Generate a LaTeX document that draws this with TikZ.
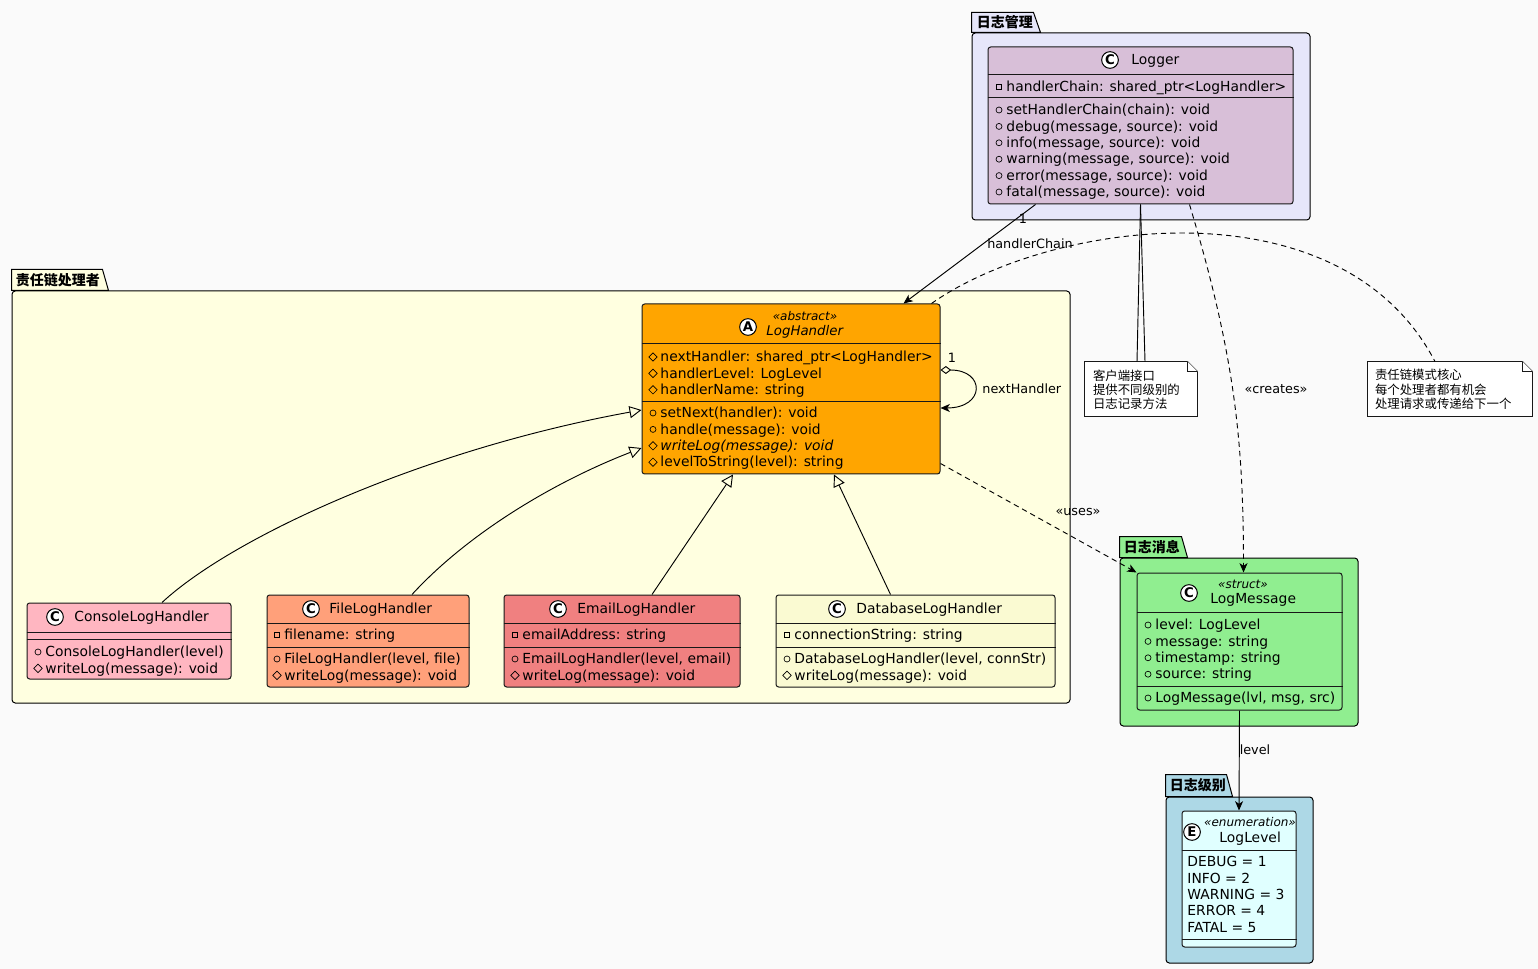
\documentclass[tikz,border=0pt]{standalone}
\usepackage{fontspec}
\setmainfont{DejaVu Sans}
\newfontfamily\cjk{Noto Sans CJK SC}
\usetikzlibrary{arrows.meta, fit, shapes.geometric}

\definecolor{bgc}{HTML}{FAFAFA}
\definecolor{lavender}{HTML}{E6E6FA}
\definecolor{thistle}{HTML}{D8BFD8}
\definecolor{lightyellow}{HTML}{FFFFE0}
\definecolor{orangec}{HTML}{FFA500}
\definecolor{lightpink}{HTML}{FFB6C1}
\definecolor{lightsalmon}{HTML}{FFA07A}
\definecolor{lightcoral}{HTML}{F08080}
\definecolor{goldenyellow}{HTML}{FAFAD2}
\definecolor{lightgreen}{HTML}{90EE90}
\definecolor{lightblue}{HTML}{ADD8E6}
\definecolor{lightcyan}{HTML}{E0FFFF}
\definecolor{border}{HTML}{181818}

% one member line: marker and text
\newcommand{\members}[4]{%
  \foreach \vis/\txt [count = \i] in {#4} {
    \node[\vis] (#1-v\i) at ({#2 + 11}, {#3 + 16.4*(\i - 1)}) {};
    \node[member] (#1-t\i) at ({#2 + 18}, {#3 + 16.4*(\i - 1)}) {\txt};
  }}

\begin{document}
\begin{tikzpicture}[x = 0.75pt, y = -0.75pt, line width = 0.7pt, font = \fontsize{10.4}{12}\selectfont,
	cls/.style = {draw = border, rounded corners = 2pt, inner sep = 0, line width = 0.75pt},
	pkg/.style = {draw = black, rounded corners = 2.5pt, inner sep = 0, line width = 0.75pt},
	pkgtitle/.style = {anchor = west, inner sep = 0, font = \cjk\bfseries\fontsize{10.5}{12}\selectfont},
	spot/.style = {circle, draw = black, fill = white, inner sep = 0, minimum size = 12.5pt, line width = 0.75pt, font = \bfseries\fontsize{10}{10}\selectfont},
	member/.style = {anchor = west, inner sep = 0, text height = 8pt, text depth = 1pt},
	stereo/.style = {inner sep = 0, font = \itshape\fontsize{9}{10}\selectfont},
	pub/.style = {circle, draw, inner sep = 0, minimum size = 4.5pt, line width = 0.5pt},
	pvt/.style = {rectangle, draw, inner sep = 0, minimum size = 4.2pt, line width = 0.5pt},
	prot/.style = {diamond, draw, inner sep = 0, minimum size = 6.5pt, line width = 0.5pt},
	note/.style = {draw = border, fill = white, line width = 0.6pt},
	notetext/.style = {anchor = north west, align = left, inner sep = 0, font = \cjk\fontsize{9.3}{10.6}\selectfont},
	lbl/.style = {inner sep = 0, font = \fontsize{9.6}{11}\selectfont},
	nav/.style = {-{Stealth[length = 7pt, width = 6pt, inset = 2pt]}},
	isa/.style = {-{Triangle[open, length = 9pt, width = 9pt]}},
	dep/.style = {nav, dash pattern = on 4pt off 3pt},
	notelink/.style = {dash pattern = on 4pt off 3pt}]

	\useasboundingbox (0,0) rectangle (1538,969);
	\fill[bgc] (0,0) rectangle (1538,969);

	% packages
	\node[pkg, fill = lavender, fit = {(972,33) (1310,220)}] (mgmt) {};
	\draw[pkg, fill = lavender, rounded corners = 0] (mgmt.north west) -- ++(0,-20) -- ++(62,0) -- ++(7,20) -- cycle;
	\node[pkgtitle] (mgmt-t) at ([shift = {(5,-10)}]mgmt.north west) {日志管理};

	\node[pkg, fill = lightyellow, fit = {(12,291) (1070,703)}] (chain) {};
	\draw[pkg, fill = lightyellow, rounded corners = 0] (chain.north west) -- ++(0,-21) -- ++(91,0) -- ++(6,21) -- cycle;
	\node[pkgtitle] (chain-t) at ([shift = {(4,-10)}]chain.north west) {责任链处理者};

	\node[pkg, fill = lightgreen, fit = {(1120,558) (1358,726)}] (msg) {};
	\draw[pkg, fill = lightgreen, rounded corners = 0] (msg.north west) -- ++(0,-21) -- ++(62,0) -- ++(6,21) -- cycle;
	\node[pkgtitle] (msg-t) at ([shift = {(4,-10)}]msg.north west) {日志消息};

	\node[pkg, fill = lightblue, fit = {(1166,797) (1313,963)}] (level) {};
	\draw[pkg, fill = lightblue, rounded corners = 0] (level.north west) -- ++(0,-22) -- ++(61,0) -- ++(6,22) -- cycle;
	\node[pkgtitle] (level-t) at ([shift = {(4,-11)}]level.north west) {日志级别};

	% Logger
	\node[cls, fill = thistle, fit = {(988,47) (1293,204)}] (logger) {};
	\draw[cls] (logger.west |- 0,75) -- (logger.east |- 0,75);
	\draw[cls] (logger.west |- 0,98) -- (logger.east |- 0,98);
	\node[spot] (logger-s) at (1110,60) {C};
	\node[member] (logger-n) at (1131,60) {Logger};
	\members{logger-a}{988}{87}{pvt/{handlerChain: shared\_ptr<LogHandler>}}
	\members{logger-o}{988}{110}{pub/{setHandlerChain(chain): void}, pub/{debug(message, source): void}, pub/{info(message, source): void}, pub/{warning(message, source): void}, pub/{error(message, source): void}, pub/{fatal(message, source): void}}

	% LogHandler
	\node[cls, fill = orangec, fit = {(642,304) (940,474)}] (loghandler) {};
	\draw[cls] (loghandler.west |- 0,344) -- (loghandler.east |- 0,344);
	\draw[cls] (loghandler.west |- 0,402) -- (loghandler.east |- 0,402);
	\node[spot] (loghandler-s) at (748,327) {A};
	\node[stereo] (loghandler-st) at (805,316) {«abstract»};
	\node[member, font = \itshape] (loghandler-n) at (766,331) {LogHandler};
	\members{loghandler-a}{642}{357}{prot/{nextHandler: shared\_ptr<LogHandler>}, prot/{handlerLevel: LogLevel}, prot/{handlerName: string}}
	\members{loghandler-o}{642}{413}{pub/{setNext(handler): void}, pub/{handle(message): void}, prot/{\itshape writeLog(message): void}, prot/{levelToString(level): string}}

	% handlers
	\node[cls, fill = lightpink, fit = {(27,603) (231,679)}] (console) {};
	\draw[cls] (console.west |- 0,632) -- (console.east |- 0,632);
	\draw[cls] (console.west |- 0,639) -- (console.east |- 0,639);
	\node[spot] (console-s) at (55,617) {C};
	\node[member] (console-n) at (74,617) {ConsoleLogHandler};
	\members{console-o}{27}{652}{pub/{ConsoleLogHandler(level)}, prot/{writeLog(message): void}}

	\node[cls, fill = lightsalmon, fit = {(267,595) (469,687)}] (file) {};
	\draw[cls] (file.west |- 0,623) -- (file.east |- 0,623);
	\draw[cls] (file.west |- 0,647) -- (file.east |- 0,647);
	\node[spot] (file-s) at (311,609) {C};
	\node[member] (file-n) at (329,609) {FileLogHandler};
	\members{file-a}{266}{635}{pvt/{filename: string}}
	\members{file-o}{266}{659}{pub/{FileLogHandler(level, file)}, prot/{writeLog(message): void}}

	\node[cls, fill = lightcoral, fit = {(504,595) (740,687)}] (email) {};
	\draw[cls] (email.west |- 0,623) -- (email.east |- 0,623);
	\draw[cls] (email.west |- 0,647) -- (email.east |- 0,647);
	\node[spot] (email-s) at (558,609) {C};
	\node[member] (email-n) at (577,609) {EmailLogHandler};
	\members{email-a}{504}{635}{pvt/{emailAddress: string}}
	\members{email-o}{504}{659}{pub/{EmailLogHandler(level, email)}, prot/{writeLog(message): void}}

	\node[cls, fill = goldenyellow, fit = {(776,595) (1055,687)}] (database) {};
	\draw[cls] (database.west |- 0,623) -- (database.east |- 0,623);
	\draw[cls] (database.west |- 0,647) -- (database.east |- 0,647);
	\node[spot] (database-s) at (837,609) {C};
	\node[member] (database-n) at (856,609) {DatabaseLogHandler};
	\members{database-a}{776}{635}{pvt/{connectionString: string}}
	\members{database-o}{776}{659}{pub/{DatabaseLogHandler(level, connStr)}, prot/{writeLog(message): void}}

	% LogMessage
	\node[cls, fill = lightgreen, fit = {(1137,573) (1342,710)}] (logmsg) {};
	\draw[cls] (logmsg.west |- 0,612) -- (logmsg.east |- 0,612);
	\draw[cls] (logmsg.west |- 0,686) -- (logmsg.east |- 0,686);
	\node[spot] (logmsg-s) at (1189,593) {C};
	\node[stereo] (logmsg-st) at (1243,584) {«struct»};
	\node[member] (logmsg-n) at (1210,599) {LogMessage};
	\members{logmsg-a}{1137}{625}{pub/{level: LogLevel}, pub/{message: string}, pub/{timestamp: string}, pub/{source: string}}
	\members{logmsg-o}{1137}{698}{pub/{LogMessage(lvl, msg, src)}}

	% LogLevel
	\node[cls, fill = lightcyan, fit = {(1182,811) (1296,947)}] (loglevel) {};
	\draw[cls] (loglevel.west |- 0,850) -- (loglevel.east |- 0,850);
	\draw[cls] (loglevel.west |- 0,939) -- (loglevel.east |- 0,939);
	\node[spot] (loglevel-s) at (1192,832) {E};
	\node[stereo] (loglevel-st) at (1250,822) {«enumeration»};
	\node[member] (loglevel-n) at (1219,838) {LogLevel};
	\foreach \txt [count = \i] in {DEBUG = 1, INFO = 2, WARNING = 3, ERROR = 4, FATAL = 5}
		\node[member] (loglevel-t\i) at (1187, {862 + 16.4*(\i - 1)}) {\txt};

	% notes
	\node[fit = {(1085,362) (1197,416)}, inner sep = 0] (note1) {};
	\draw[note] (note1.south west) -- (note1.north west) -- ([shift = {(-10,0)}]note1.north east) -- ([shift = {(0,10)}]note1.north east) -- (note1.south east) -- cycle;
	\draw[note] ([shift = {(-10,0)}]note1.north east) |- ([shift = {(0,10)}]note1.north east);
	\node[notetext] (note1-t) at ([shift = {(8,7.5)}]note1.north west) {客户端接口\\提供不同级别的\\日志记录方法};

	\node[fit = {(1368,362) (1532,416)}, inner sep = 0] (note2) {};
	\draw[note] (note2.south west) -- (note2.north west) -- ([shift = {(-10,0)}]note2.north east) -- ([shift = {(0,10)}]note2.north east) -- (note2.south east) -- cycle;
	\draw[note] ([shift = {(-10,0)}]note2.north east) |- ([shift = {(0,10)}]note2.north east);
	\node[notetext] (note2-t) at ([shift = {(7,7.5)}]note2.north west) {责任链模式核心\\每个处理者都有机会\\处理请求或传递给下一个};

	% connectors
	\draw[nav] ([shift = {(48,0)}]logger.south west) -- ([shift = {(262,0)}]loghandler.north west);
	\node[lbl] (hc-one) at (1023,219) {1};
	\node[lbl] (hc-name) at (1030,244) {handlerChain};

	\draw (logger.south) -- ([xshift = -3pt]note1.north);
	\draw (logger.south) -- ([xshift = 3pt]note1.north);

	\draw[dep] ([shift = {(202,0)}]logger.south west) .. controls +(45,150) and +(0,-133) .. ([shift = {(4,0)}]logmsg.north);
	\node[lbl] (cr-l) at (1276,389) {«creates»};

	\draw[notelink] ([shift = {(-9,0)}]loghandler.north east) .. controls (1050,220) and (1340,180) .. ([shift = {(-15,0)}]note2.north);

	\draw[{Diamond[open, length = 8pt, width = 6pt]}-{Stealth[length = 7pt, width = 6pt, inset = 2pt]}] ([shift = {(0,-19)}]loghandler.east) .. controls +(45,0) and +(45,0) .. ([shift = {(0,19)}]loghandler.east);
	\node[lbl] (nh-one) at (952,358) {1};
	\node[lbl, anchor = west] (nh-name) at (982,389) {nextHandler};

	\draw[dep] ([shift = {(0,-11)}]loghandler.south east) -- (logmsg.north west);
	\node[lbl] (uses-l) at (1078,512) {«uses»};

	\draw[isa] ([shift = {(33,0)}]console.north) .. controls +(70,-65) and +(-220,40) .. ([shift = {(0,21)}]loghandler.west);
	\draw[isa] ([shift = {(44,0)}]file.north) .. controls +(55,-60) and +(-90,35) .. ([shift = {(0,59)}]loghandler.west);
	\draw[isa] ([shift = {(30,0)}]email.north) -- ([shift = {(-58,0)}]loghandler.south);
	\draw[isa] ([shift = {(-25,0)}]database.north) -- ([shift = {(43,0)}]loghandler.south);

	\draw[nav] (logmsg.south) -- (loglevel.north);
	\node[lbl] (lvl-l) at (1255,750) {level};

\end{tikzpicture}
\end{document}
